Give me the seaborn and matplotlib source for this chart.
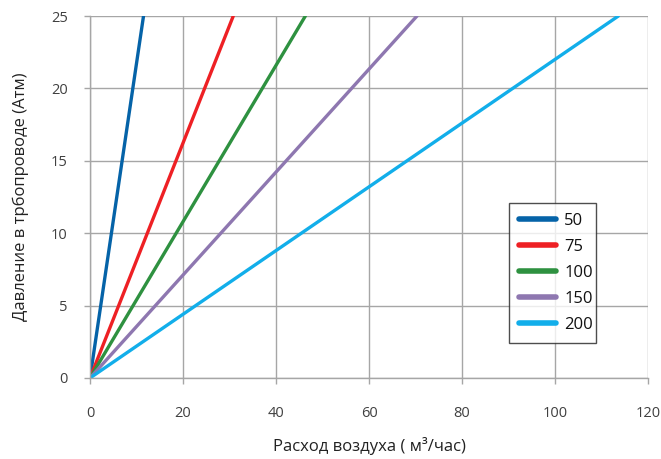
import matplotlib
matplotlib.use("Agg")
import matplotlib.pyplot as plt
import seaborn as sns
import pandas as pd

series = ["50", "75", "100", "150", "200"]
flow_end = [11.5, 30.8, 46.3, 70.3, 113.6]
pressure = [0, 25]
colors = ["#0563a8", "#ee2024", "#2e9140", "#8e77b0", "#12aeea"]

rows = []
for s, fe in zip(series, flow_end):
    rows.append({"series": s, "flow": 0.0, "pressure": pressure[0]})
    rows.append({"series": s, "flow": fe, "pressure": pressure[1]})
df = pd.DataFrame(rows)

sns.set_theme(style="white")
plt.rcParams['font.family'] = ['Open Sans', 'DejaVu Sans']

fig = plt.figure(figsize=(6.61, 4.59), dpi=100)
ax = fig.add_axes([0.1362, 0.1765, 0.8442, 0.7885])
sns.lineplot(data=df, x="flow", y="pressure", hue="series", palette=colors,
             linewidth=2.4, ax=ax, sort=False, estimator=None)

ax.set_xlim(0, 120)
ax.set_ylim(0, 25)
ax.set_xticks(range(0, 121, 20))
ax.set_yticks(range(0, 26, 5))
ax.grid(True, color="#a6a6a6", linewidth=1.0)
for sp in ["top", "right"]:
    ax.spines[sp].set_visible(False)
for sp in ["left", "bottom"]:
    ax.spines[sp].set_color("#a6a6a6")
    ax.spines[sp].set_linewidth(1.0)
ax.tick_params(axis="both", colors="#a6a6a6", labelsize=10.5, length=4,
               width=1, direction="out", left=True, bottom=True)
ax.tick_params(axis="x", pad=16)
ax.tick_params(axis="y", pad=12)
for t in ax.get_xticklabels() + ax.get_yticklabels():
    t.set_color("#404040")
ax.set_xlabel("Расход воздуха ( м³/час)", fontsize=12, color="#222222", labelpad=12)
ax.set_ylabel("Давление в трбопроводе (Атм)", fontsize=12, color="#222222", labelpad=16)

handles, labels = ax.get_legend_handles_labels()
for h in handles:
    h.set_linewidth(4)
leg = ax.legend(handles, labels, loc="lower left", bbox_to_anchor=(0.751, 0.097, 0.156, 0.395),
                mode="expand", frameon=True, fontsize=12, handlelength=2.2,
                labelspacing=0.6, borderpad=0.6, handletextpad=0.5, fancybox=False,
                borderaxespad=0)
leg.get_frame().set_edgecolor("#222222")
leg.get_frame().set_linewidth(1.0)
for t in leg.get_texts():
    t.set_color("#111111")

fig.savefig("out.png", dpi=100)
